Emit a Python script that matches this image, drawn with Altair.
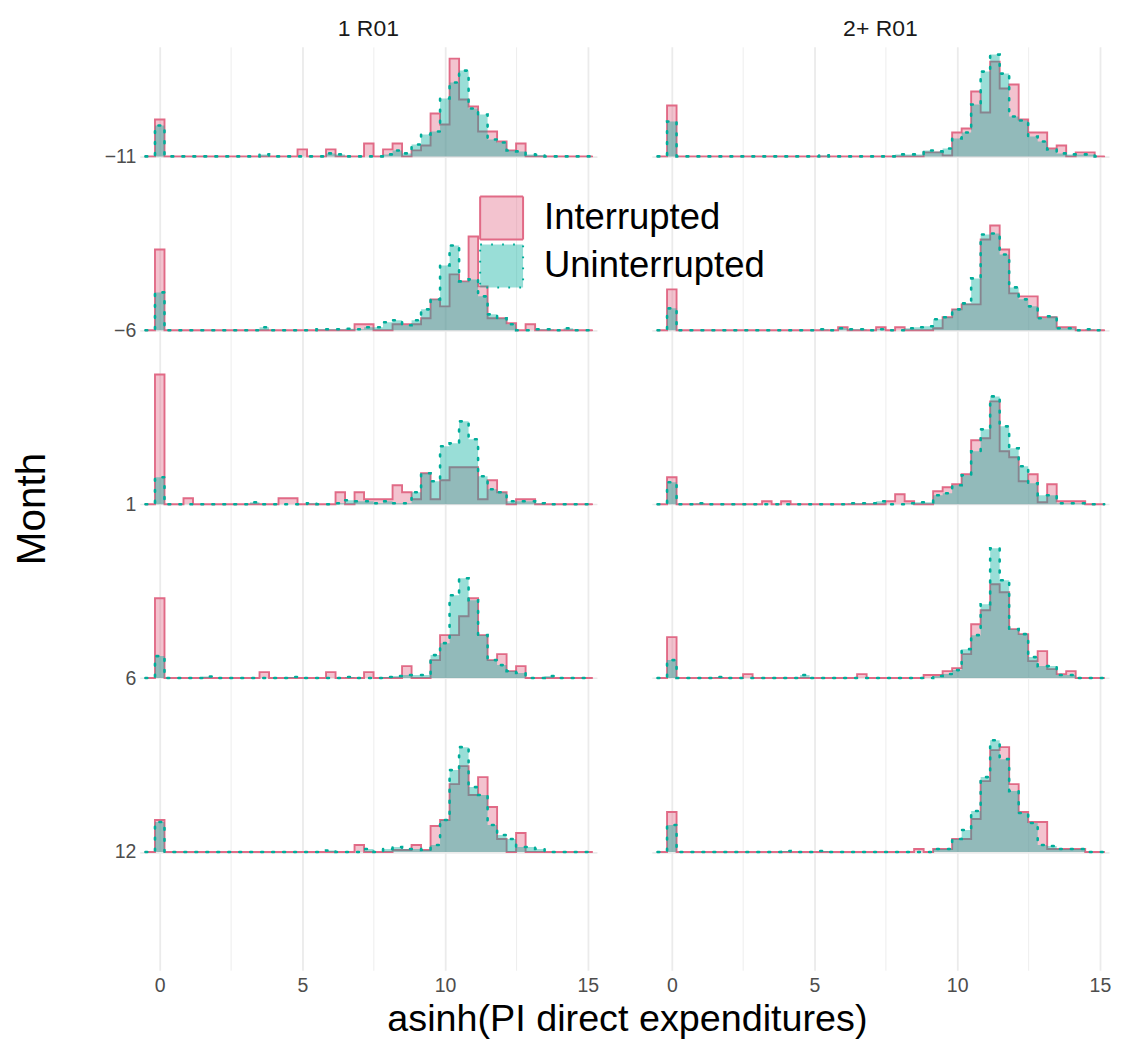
import altair as alt
import pandas as pd

# ---------------- data ----------------
PANELS = ["1 R01", "2+ R01"]
MONTHS = [-11, -6, 1, 6, 12]
MONTH_LABELS = ["−11", "−6", "1", "6", "12"]
GROUPS = ["Interrupted", "Uninterrupted"]
BIN_WIDTH = 0.333          # histogram bin width (asinh units), bins centred on k*BIN_WIDTH
N_BINS = 45                # bins k = 0..44
ROW_SCALE = 174.25         # histogram height units per ridge spacing

# heights per bin (k = 0..44), relative units
P1_M11_INT = [37,0,0,0,0, 0,0,0,0,0, 0,0,0,0,0, 7,0,0,7,0, 0,0,13,0,7,
              13,0,6,11,43, 32,98,57,50,25, 25,15,6,13,0, 0,0,0,0,0]
P1_M11_UNI = [31,0,0,0,0, 0,0,0,0,0, 0,2,0,0,0, 0,0,0,3,2, 0,0,0,0,2,
              6,3,12,22,25, 58,74,86,48,42, 17,14,6,5,2, 1.5,0,0,0,0]
P1_M6_INT = [81,0,0,0,0, 0,0,0,0,0, 0,0,0,0,0, 0,0,0,0,0, 0,6,6,0,0,
             6,6,6,12,31, 24,56,49,94,44, 12,12,7,0,6, 0,0,0,0,0]
P1_M6_UNI = [38,0,0,0,0, 0,0,0,0,0, 0,3,0,0,0, 0,0,1,1,1, 1.5,1,3,3,8,
             10,5,10,21,31, 65,85,49,51,34, 16,12,6,0,0, 1,1,0,2,0]
P1_P1_INT = [130,0,0,6,0, 0,0,0,0,0, 0,0,0,6,6, 0,0,0,0,12, 0,12,5,5,5,
             19,12,5,31,5, 24,37,37,37,5, 24,12,0,5,5, 0,0,0,0,0]
P1_P1_UNI = [27,0,0,0,0, 0,0,0,0,0, 2,0,0,0,0, 0,1,0,0,1, 4,3,3,1,3,
             1,1,12,31,23, 58,61,83,65,28, 15,12,3,3,3, 1,0,0,0,0]
P1_P6_INT = [80,0,0,0,0, 0,0,0,0,0, 0,6,0,0,0, 0,0,0,6,0, 0,0,6,0,0,
             0,12,0,0,18, 43,43,62,80,43, 18,24,7,12,0, 0,0,0,0,0]
P1_P6_UNI = [22,0,0,0,0, 1.5,0,0,0,0, 0,0,0,0,1, 0,0,0,0,0, 1,0,0,0,1,
             2,3,3,3,23, 35,83,100,78,43, 18,13,7,5,0, 0,2,0,0,0]
P1_P12_INT = [32,0,0,0,0, 0,0,0,0,0, 0,0,0,0,0, 0,0,0,0,0, 0,7,0,0,0,
              2,2,7,2,26, 32,68,86,57,75, 45,13,0,19,0, 0,0,0,0,0]
P1_P12_UNI = [30,0,0,0,0, 0,0,0,0,0, 0,0,0,0,0, 0,0,0,1.5,0, 0,0,3,0,3,
              5,3,3,2,7, 32,82,105,65,57, 27,17,13,5,5, 3,0,0,0,0]

P2_M11_INT = [51,0,0,0,0, 0,0,0,0,0, 0,0,0,0,0, 0,0,0,0,0, 0,0,0,0,0,
              0,0,4,4,1, 24,28,65,44,95, 68,72,37,24,24, 8,11,0,4,4]
P2_M11_UNI = [35,0,0,0,0, 0,0,0,0,0, 0,0,0,0,0, 0,1,0,0,0, 0,0,0,0,2,
              2,2,6,5,8, 18,24,52,85,102, 83,40,36,20,15, 7,3,2,2,2]
P2_M6_INT = [41,0,0,0,0, 0,0,0,0,0, 0,0,0,0,0, 0,0,0,3,0, 0,0,3,0,3,
             0,0,0,2,13, 21,26,26,91,105, 81,37,34,34,13, 13,3,3,0,0]
P2_M6_UNI = [22,0,0,0,0, 0,0,0,0,0, 0,0,0,0,0, 0,1,0,2,1, 1,0,1,0,0,
             2,3,4,11,13, 21,27,52,96,97, 76,43,31,24,12, 14,2,2,0,1]
P2_P1_INT = [27,0,0,0,0, 0,0,0,0,0, 3,0,3,0,0, 0,0,0,0,0, 0,0,0,3,10,
             3,0,0,13,17, 20,30,64,66,103, 53,47,23,30,2, 20,3,3,3,0]
P2_P1_UNI = [22,0,0,1,0, 0,0,0,0,0, 0,0,0,0,0, 0,0,0,0,1, 1,1,3,0,0,
             1,2,2,9,11, 19,29,53,75,108, 78,56,38,21,9, 9,1,1,1,0]
P2_P6_INT = [41,0,0,0,0, 0,0,0,4,0, 0,0,0,0,0, 0,0,0,0,0, 4,0,0,0,0,
             0,0,3,3,7, 10,24,54,68,94, 86,49,44,17,27, 9,4,7,0,0]
P2_P6_UNI = [18,0,0,0,0, 1,0,0,0,0, 0,0,0,0,3, 0,0,0,0,0, 0,0,0,0,0,
             0,0,0,2,4, 8,29,43,74,130, 98,49,44,21,12, 12,3,3,0,0]
P2_P12_INT = [40,0,0,0,0, 0,0,0,0,0, 0,0,0,0,0, 0,0,0,0,0, 0,0,0,0,0,
              0,3,0,3,3, 13,13,33,71,102, 105,68,40,30,30, 3,3,3,3,0]
P2_P12_UNI = [27,0,0,0,0, 0,0,0,0,0, 0,0,1,0,0, 0,1,0,0,0, 0,0,0,0,0,
              0,0,0,3,3, 13,22,41,75,112, 93,61,39,29,7, 6,3,3,3,0]

SERIES = {
    ("1 R01", -11): (P1_M11_INT, P1_M11_UNI),
    ("1 R01", -6): (P1_M6_INT, P1_M6_UNI),
    ("1 R01", 1): (P1_P1_INT, P1_P1_UNI),
    ("1 R01", 6): (P1_P6_INT, P1_P6_UNI),
    ("1 R01", 12): (P1_P12_INT, P1_P12_UNI),
    ("2+ R01", -11): (P2_M11_INT, P2_M11_UNI),
    ("2+ R01", -6): (P2_M6_INT, P2_M6_UNI),
    ("2+ R01", 1): (P2_P1_INT, P2_P1_UNI),
    ("2+ R01", 6): (P2_P6_INT, P2_P6_UNI),
    ("2+ R01", 12): (P2_P12_INT, P2_P12_UNI),
}

# ---------------- build the step table ----------------
rows = []
for (panel, month), pair in SERIES.items():
    base = len(MONTHS) - 1 - MONTHS.index(month)
    for group, vals in zip(GROUPS, pair):
        padded = [0] + list(vals) + [0, 0]          # k = -1 .. N_BINS+1
        for j, v in enumerate(padded):
            k = j - 1
            rows.append({
                "panel": panel, "month": month, "group": group,
                "x": (k - 0.5) * BIN_WIDTH,
                "base": base,
                "ytop": base + v / ROW_SCALE,
            })
df = pd.DataFrame(rows)

FONT = "Liberation Sans"
FILL_RANGE = ["rgba(225,106,134,0.4)", "rgba(0,173,154,0.4)"]
LINE_RANGE = ["#E16A86", "#00AD9A"]
DASH_RANGE = [[1, 0], [1.8, 9.2]]
LINE_WIDTHS = [1.9, 2.6]

y_label_expr = " : ".join(
    f"datum.value == {len(MONTHS) - 1 - i} ? '{lab}'" for i, lab in enumerate(MONTH_LABELS)
) + " : ''"

x_enc = alt.X(
    "x:Q",
    title=None,
    scale=alt.Scale(domain=[-0.7, 15.32], nice=False, zero=False),
    axis=alt.Axis(
        values=[0, 2.5, 5, 7.5, 10, 12.5, 15],
        labelExpr="datum.value % 5 == 0 ? datum.label : ''",
        ticks=False, domain=False, grid=True,
        gridColor="#EBEBEB",
        gridWidth={"condition": {"test": "datum.value % 5 == 0", "value": 1.8}, "value": 0.9},
        labelFontSize=19.5, labelColor="#4D4D4D", labelPadding=6,
    ),
)
y_enc = alt.Y(
    "ytop:Q",
    title="Month",
    scale=alt.Scale(domain=[-0.68, 4.63], nice=False, zero=False),
    axis=alt.Axis(
        values=list(range(len(MONTHS))),
        labelExpr=y_label_expr,
        ticks=False, domain=False, grid=True,
        gridColor="#EBEBEB", gridWidth=1.6,
        labelFontSize=19.5, labelColor="#4D4D4D", labelPadding=4,
        titleFontSize=40.5, titleFontWeight="normal", titleColor="#000000", titlePadding=51,
    ),
)

legend = alt.Legend(
    title=None, orient="none", legendX=340, legendY=149,
    symbolType="square", symbolSize=1849, symbolStrokeWidth=2,
    labelFontSize=36.5, labelColor="#000000", labelFont=FONT, labelOffset=20,
    labelLimit=0, rowPadding=-9, padding=0,
)
fill_enc = alt.Fill("group:N", scale=alt.Scale(domain=GROUPS, range=FILL_RANGE), legend=legend)
stroke_enc = alt.Stroke("group:N", scale=alt.Scale(domain=GROUPS, range=LINE_RANGE), legend=legend)
dash_enc = alt.StrokeDash("group:N", scale=alt.Scale(domain=GROUPS, range=DASH_RANGE), legend=legend)


def area_layer(group):
    return alt.Chart().mark_area(interpolate="step-after", opacity=1).encode(
        x=x_enc, y=y_enc, y2="base:Q", fill=fill_enc, detail="month:N"
    ).transform_filter(alt.datum.group == group)


def line_layer(group, width):
    return alt.Chart().mark_line(interpolate="step-after", strokeWidth=width, strokeCap="round").encode(
        x=x_enc, y=y_enc, stroke=stroke_enc, strokeDash=dash_enc, detail="month:N"
    ).transform_filter(alt.datum.group == group)


layered = alt.layer(
    area_layer(GROUPS[0]), line_layer(GROUPS[0], LINE_WIDTHS[0]),
    area_layer(GROUPS[1]), line_layer(GROUPS[1], LINE_WIDTHS[1]),
    data=df,
).properties(width=458, height=925, view=alt.ViewBackground(stroke="transparent", strokeWidth=0))

chart = layered.facet(
    column=alt.Column(
        "panel:N", title=None, sort=PANELS,
        header=alt.Header(labelFontSize=23, labelColor="#1A1A1A", labelFont=FONT, labelPadding=6),
    ),
    spacing=54,
).properties(
    title=alt.TitleParams(
        text="asinh(PI direct expenditures)", orient="bottom", anchor="middle",
        fontSize=37.8, fontWeight="normal", color="#000000", font=FONT, offset=6, dx=66,
    ),
    padding={"left": 4, "top": 9, "right": 2, "bottom": 0},
).configure_view(
    stroke="transparent", strokeWidth=0, strokeOpacity=0
).configure_axis(
    labelFont=FONT, titleFont=FONT
).configure(
    font=FONT
)

chart.save("out.html", embed_options={"renderer": "svg", "actions": False})
